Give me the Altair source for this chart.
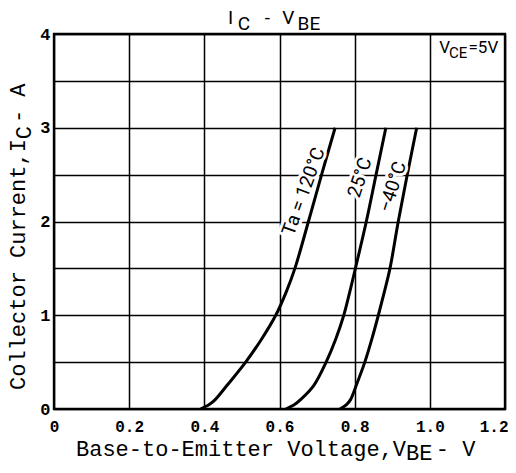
import altair as alt
import pandas as pd

# ---- data ----
i_pts = [0, 0.05, 0.1, 0.25, 0.5, 0.75, 1.0, 1.25, 1.5, 2.0, 2.5, 3.0]
v_120 = [0.39, 0.414, 0.429, 0.46, 0.51, 0.553, 0.59, 0.618, 0.641, 0.677, 0.712, 0.748]
v_25 = [0.617, 0.641, 0.656, 0.691, 0.724, 0.75, 0.771, 0.787, 0.802, 0.831, 0.857, 0.883]
v_m40 = [0.761, 0.779, 0.789, 0.804, 0.827, 0.846, 0.863, 0.879, 0.894, 0.916, 0.94, 0.965]

series_names = ["120", "25", "-40"]

x_grid_values = [round(0.1 * k, 1) for k in range(13)]
y_grid_values = [0.5 * k for k in range(9)]

curve_labels = ["Ta = 120°C", "25°C", "−40°C"]
curve_label_v = [0.664, 0.814, 0.901]
curve_label_i = [2.32, 2.47, 2.37]
curve_label_angle = [290, 288, 288]

rows = []
for name, vs in zip(series_names, [v_120, v_25, v_m40]):
    for v, i in zip(vs, i_pts):
        rows.append({"series": name, "V": v, "I": i})
curves = pd.DataFrame(rows)

X = alt.Scale(domain=[0, 1.2], nice=False, zero=False)
Y = alt.Scale(domain=[0, 4], nice=False, zero=False)

MONO = "Liberation Mono"
SANS = "Roboto"

base = alt.Chart(curves).encode(
    x=alt.X("V:Q", scale=X, axis=alt.Axis(
        values=x_grid_values, grid=True, gridColor="black", gridWidth=1.5, gridOpacity=1,
        ticks=False, domain=False, title=None,
        labelExpr="round(datum.value*10)%2==0 ? (datum.value==0 ? '0' : format(datum.value,'.1f')) : ''",
        labelFont=MONO, labelFontWeight="bold", labelFontSize=16, labelColor="black",
        labelPadding=9, labelFlush=False,
        labelAlign=alt.condition("datum.value > 1.15", alt.value("right"), alt.value("center")),
        labelOffset=alt.condition("datum.value > 1.15", alt.value(3), alt.value(0)))),
    y=alt.Y("I:Q", scale=Y, axis=alt.Axis(
        values=y_grid_values, grid=True, gridColor="black", gridWidth=1.5, gridOpacity=1,
        ticks=False, domain=False, title=None,
        labelExpr="datum.value%1==0 ? format(datum.value,'d') : ''",
        labelFont=MONO, labelFontWeight="bold", labelFontSize=17, labelColor="black",
        labelPadding=4, labelFlush=False)),
)

lines = base.mark_line(color="black", strokeWidth=3, interpolate="catmull-rom").encode(
    detail="series:N", order="I:Q")

# curve labels with white halo
lab_df = pd.DataFrame({"t": curve_labels, "V": curve_label_v, "I": curve_label_i,
                       "a": curve_label_angle})
lab_halo = alt.Chart(lab_df).mark_text(font=SANS, fontSize=19, stroke="white",
                                       strokeWidth=6, color="white",
                                       align="center", baseline="middle").encode(
    x=alt.X("V:Q", scale=X), y=alt.Y("I:Q", scale=Y), text="t:N",
    angle=alt.Angle("a:Q", scale=None))
lab_txt = alt.Chart(lab_df).mark_text(font=SANS, fontSize=19, color="black",
                                      align="center", baseline="middle").encode(
    x=alt.X("V:Q", scale=X), y=alt.Y("I:Q", scale=Y), text="t:N",
    angle=alt.Angle("a:Q", scale=None))

# V_CE = 5V note
vce_df = pd.DataFrame({"t": ["V", "CE", "=5V"], "V": [1.025, 1.051, 1.103],
                       "I": [3.797, 3.744, 3.797], "s": [17, 15, 17]})
vce_halo = alt.Chart(vce_df).mark_text(font=SANS, stroke="white",
                                       strokeWidth=7, color="white", align="left",
                                       baseline="alphabetic").encode(
    x=alt.X("V:Q", scale=X), y=alt.Y("I:Q", scale=Y), text="t:N",
    size=alt.Size("s:Q", scale=None))
vce_txt = alt.Chart(vce_df).mark_text(font=SANS, color="black",
                                      align="left", baseline="alphabetic").encode(
    x=alt.X("V:Q", scale=X), y=alt.Y("I:Q", scale=Y), text="t:N",
    size=alt.Size("s:Q", scale=None))

# chart title  I_C - V_BE
title_df = pd.DataFrame({"t": ["I", "C", "-", "V", "BE"],
                         "V": [0.463, 0.489, 0.561, 0.607, 0.648],
                         "I": [4.107, 4.043, 4.107, 4.107, 4.043]})
title_txt = alt.Chart(title_df).mark_text(font=SANS, fontSize=19, color="black",
                                          align="left", baseline="alphabetic").encode(
    x=alt.X("V:Q", scale=X), y=alt.Y("I:Q", scale=Y), text="t:N")

# x axis title: Base-to-Emitter Voltage,V_BE - V
xt_df = pd.DataFrame({"t": ["Base-to-Emitter Voltage,V", "BE", " - V"],
                      "V": [0.0585, 0.9365, 1.016],
                      "I": [-0.501, -0.549, -0.501]})
xt_txt = alt.Chart(xt_df).mark_text(font=MONO, fontSize=22, color="black",
                                    align="left", baseline="alphabetic").encode(
    x=alt.X("V:Q", scale=X), y=alt.Y("I:Q", scale=Y), text="t:N")

# y axis title: Collector Current,I_C - A
yt_df = pd.DataFrame({"t": ["Collector Current,I", "C", " - A"],
                      "V": [-0.077, -0.060, -0.077],
                      "I": [0.203, 2.878, 3.05]})
yt_txt = alt.Chart(yt_df).mark_text(font=MONO, fontSize=22, color="black",
                                    align="left", baseline="alphabetic",
                                    angle=270).encode(
    x=alt.X("V:Q", scale=X), y=alt.Y("I:Q", scale=Y), text="t:N")

chart = alt.layer(lines, lab_halo, lab_txt, vce_halo, vce_txt, title_txt,
                  xt_txt, yt_txt).properties(
    width=451, height=375,
    autosize=alt.AutoSizeParams(type="none"),
    padding={"left": 46, "top": 26, "right": 3, "bottom": 53},
    background="white",
).configure_view(stroke="black", strokeWidth=2.4)

chart.save("out.html", embed_options={"renderer": "svg", "actions": False})
